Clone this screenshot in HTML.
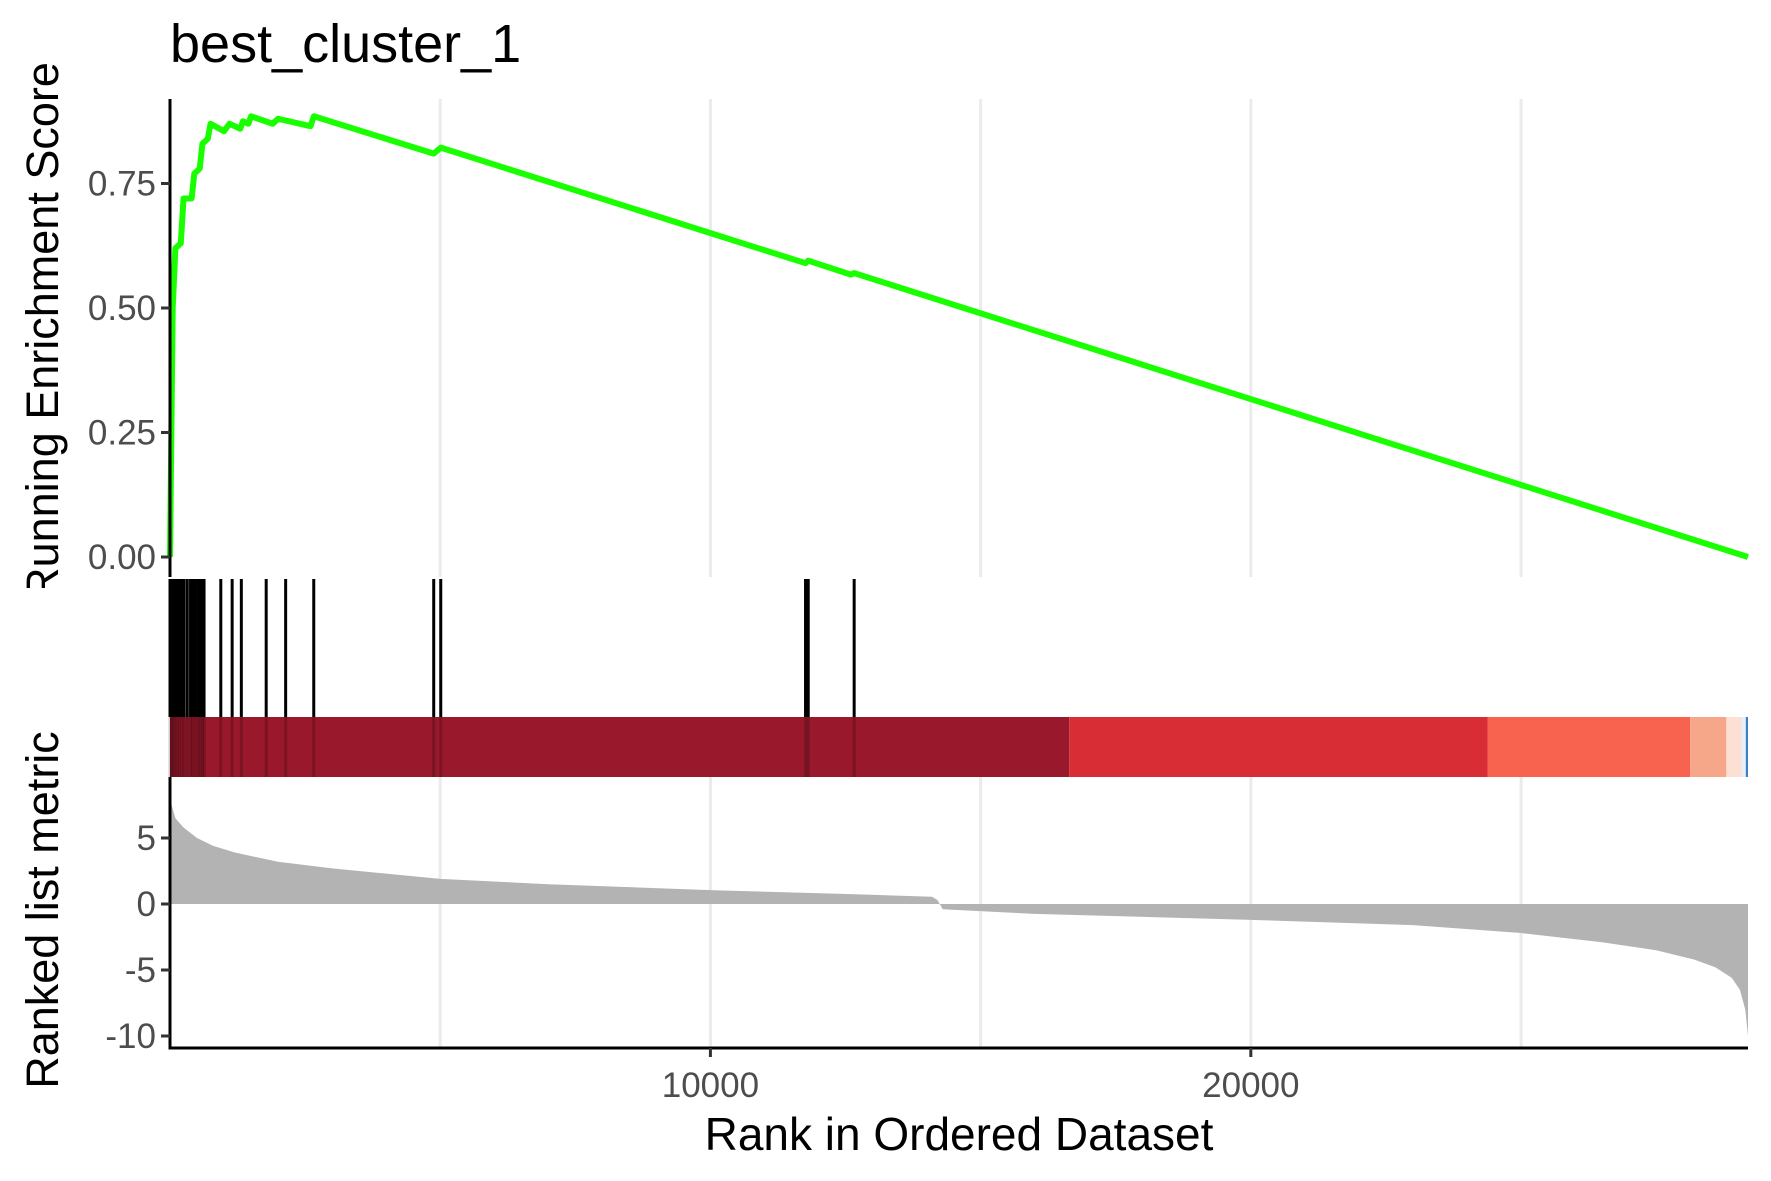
<!DOCTYPE html>
<html><head><meta charset="utf-8"><style>
html,body{margin:0;padding:0;background:#fff;}
svg{display:block;font-family:"Liberation Sans",Arial,sans-serif;}
</style></head><body>
<svg id="chart" width="1771" height="1181" viewBox="0 0 1771 1181" xmlns="http://www.w3.org/2000/svg">
<rect width="1771" height="1181" fill="#fff"/>
<g id="grid"></g><g id="marks"></g><g id="axes"></g>
<text x="170" y="62" font-size="54" fill="#000">best_cluster_1</text>
<text x="959" y="1150" font-size="46" text-anchor="middle" fill="#000">Rank in Ordered Dataset</text>
<defs><clipPath id="clipTitle"><rect x="0" y="0" width="160" height="588"/></clipPath></defs>
<g clip-path="url(#clipTitle)">
<text transform="translate(58,331) rotate(-90)" font-size="45" text-anchor="middle" fill="#000">Running Enrichment Score</text>
</g>
<text transform="translate(58,910) rotate(-90)" font-size="45" text-anchor="middle" fill="#000">Ranked list metric</text>
</svg>
<script>
const esRanks = [0,50,100,200,250,400,450,550,600,700,750,1000,1100,1300,1350,1450,1500,1900,2000,2600,2662,4880,5010,11760,11810,12600,12660,29200];
const esValues = [0,0.5,0.62,0.63,0.72,0.72,0.77,0.78,0.83,0.84,0.87,0.855,0.87,0.86,0.875,0.87,0.885,0.87,0.88,0.865,0.885,0.81,0.822,0.59,0.595,0.567,0.57,0];
const hitRanks = [0,30,60,90,130,170,220,260,320,380,420,470,520,560,600,630,940,1150,1320,1780,2140,2660,4880,5010,11760,11810,12660];
const metricRanks = [0,30,100,250,500,800,1200,2000,3000,4000,5000,7000,10000,12600,14100,14200,14300,16000,20000,23000,25000,26500,27500,28200,28600,28900,29050,29150,29200];
const metricValues = [8.8,7.5,6.5,5.8,5.0,4.4,3.9,3.2,2.7,2.3,1.9,1.5,1.05,0.75,0.55,0.3,-0.4,-0.75,-1.2,-1.6,-2.2,-2.9,-3.5,-4.2,-4.8,-5.6,-6.5,-8,-10];
const barStarts = [0,16640,24380,28130,28800,29080,29160];
const barEnds = [16640,24380,28130,28800,29080,29160,29200];
const barColors = ["#99182b","#d92d36","#f7634f","#f7a789","#fde0d4","#e8eef8","#3a7fc0"];
const esTicks = [0,0.25,0.5,0.75];
const esTickLabels = ["0.00","0.25","0.50","0.75"];
const metricTicks = [5,0,-5,-10];
const metricTickLabels = ["5","0","-5","-10"];
const xGrid = [5000,10000,15000,20000,25000];
const xTicks = [10000,20000];
const xTickLabels = ["10000","20000"];

const NS="http://www.w3.org/2000/svg";
const X0=170, X1=1748, XMAX=29200;
const xs = r => X0 + r/XMAX*(X1-X0);
const yEs = v => 557 - v*498;
const yM = v => 904 - v*13.2;
function mk(tag, attrs, parent){const e=document.createElementNS(NS,tag);for(const k in attrs)e.setAttribute(k,attrs[k]);document.getElementById(parent).appendChild(e);return e;}

xGrid.forEach(g=>{
  let l=mk('line',{x1:xs(g),x2:xs(g),y1:99,y2:577,stroke:'#ebebeb','stroke-width':3},'grid');
  
  
  let l2=mk('line',{x1:xs(g),x2:xs(g),y1:777,y2:1048,stroke:'#ebebeb','stroke-width':3},'grid');
  
  
});

let d='M'+xs(metricRanks[0])+','+yM(0);
metricRanks.forEach((r,i)=>{d+=' L'+xs(r)+','+yM(metricValues[i]);});
d+=' L'+xs(metricRanks[metricRanks.length-1])+','+yM(0)+' Z';
let area=mk('path',{d:d,fill:'#b3b3b3'},'marks');



barStarts.forEach((s,i)=>{
  let r=mk('rect',{x:xs(s),y:717,width:xs(barEnds[i])-xs(s),height:60,fill:barColors[i]},'marks');
  
  
});
hitRanks.forEach(r=>{
  let l=mk('line',{x1:xs(r),x2:xs(r),y1:579,y2:717,stroke:'#000','stroke-width':3},'marks');
  
  
  let l2=mk('line',{x1:xs(r),x2:xs(r),y1:717,y2:777,stroke:'#000','stroke-width':3,'stroke-opacity':0.2},'marks');
  
  
});

let pts=esRanks.map((r,i)=>xs(r)+','+yEs(esValues[i])).join(' ');
let es=mk('polyline',{points:pts,fill:'none',stroke:'#1aff00','stroke-width':6,'stroke-linejoin':'round'},'marks');



let a1=mk('line',{x1:X0,x2:X0,y1:99,y2:577,stroke:'#000','stroke-width':3},'axes');


let a2=mk('line',{x1:X0,x2:X0,y1:777,y2:1049,stroke:'#000','stroke-width':3},'axes');


let a3=mk('line',{x1:X0-1.5,x2:X1,y1:1048,y2:1048,stroke:'#000','stroke-width':3},'axes');



esTicks.forEach((v,i)=>{
  let t=mk('line',{x1:X0-9,x2:X0,y1:yEs(v),y2:yEs(v),stroke:'#333','stroke-width':3},'axes');
  
  
  let tx=mk('text',{x:X0-14,y:yEs(v)+12,'font-size':35,'text-anchor':'end',fill:'#4d4d4d'},'axes');
  tx.textContent=esTickLabels[i];
  
  
});
metricTicks.forEach((v,i)=>{
  let t=mk('line',{x1:X0-9,x2:X0,y1:yM(v),y2:yM(v),stroke:'#333','stroke-width':3},'axes');
  
  
  let tx=mk('text',{x:X0-14,y:yM(v)+12,'font-size':35,'text-anchor':'end',fill:'#4d4d4d'},'axes');
  tx.textContent=metricTickLabels[i];
  
  
});
xTicks.forEach((v,i)=>{
  let t=mk('line',{x1:xs(v),x2:xs(v),y1:1048,y2:1057,stroke:'#333','stroke-width':3},'axes');
  
  
  let tx=mk('text',{x:xs(v),y:1097,'font-size':35,'text-anchor':'middle',fill:'#4d4d4d'},'axes');
  tx.textContent=xTickLabels[i];
  
  
});
</script>
</body></html>
